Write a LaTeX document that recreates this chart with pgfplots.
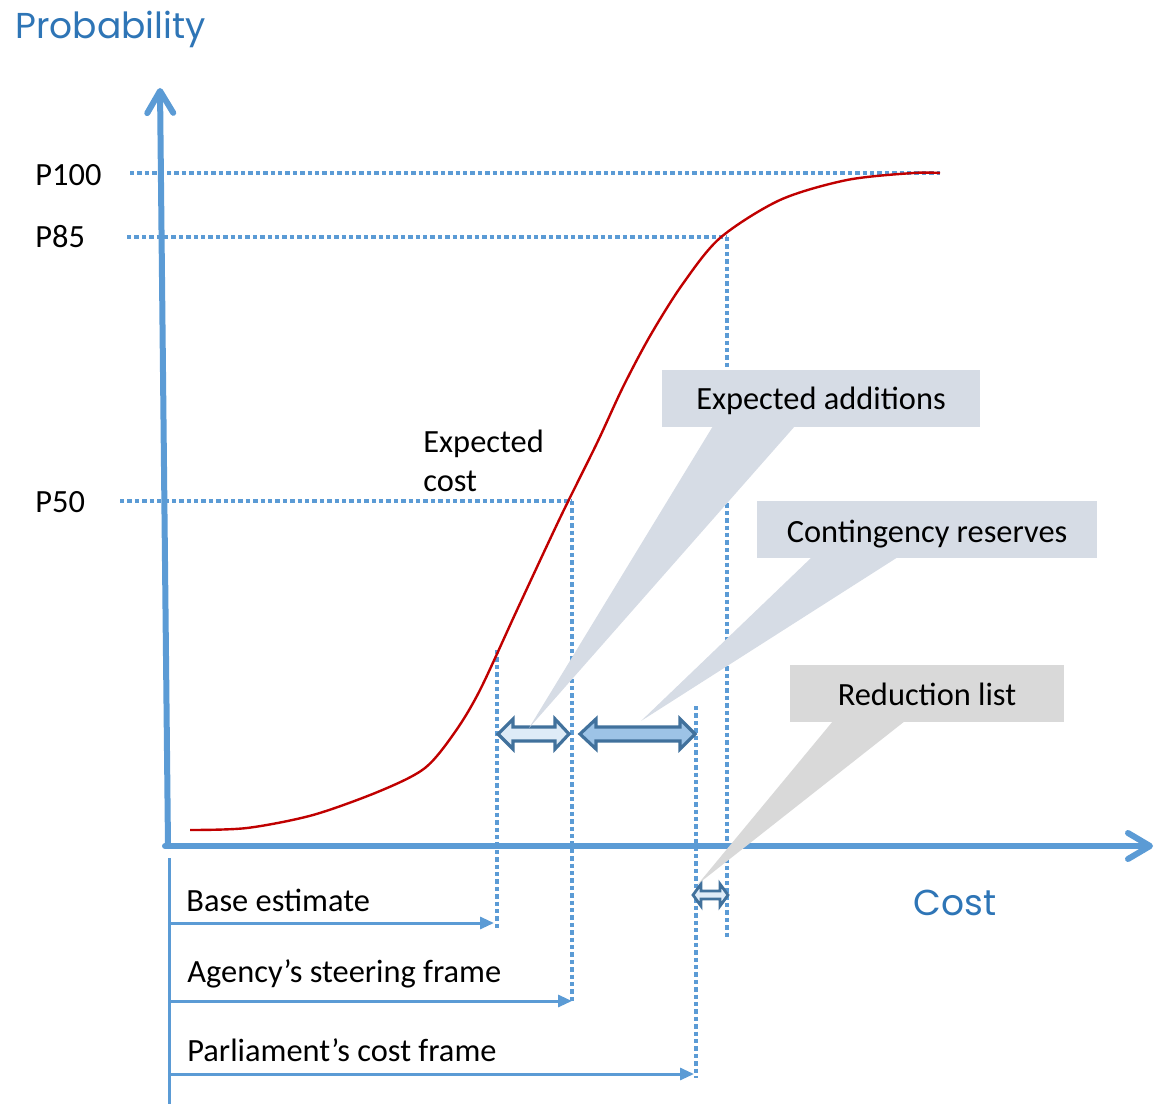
\documentclass[border=0pt]{standalone}
\usepackage{pgfplots}
\pgfplotsset{compat=1.18}
\usepackage{fontspec}
\setmainfont{Carlito}
\newfontfamily\titlefont{Poppins}
\usetikzlibrary{arrows.meta}

\definecolor{axblue}{HTML}{5B9BD5}
\definecolor{ttlblue}{HTML}{2E75B6}
\definecolor{curvered}{HTML}{C00000}
\definecolor{callblue}{HTML}{D6DCE5}
\definecolor{callgrey}{HTML}{D9D9D9}
\definecolor{arrlight}{HTML}{DEEBF7}
\definecolor{arrmid}{HTML}{9DC3E6}
\definecolor{arrdark}{HTML}{41719C}

\tikzset{
    lbl/.style={font=\fontsize{16.2}{19}\selectfont, inner sep=0pt},
    ttl/.style={font=\titlefont\fontsize{18}{20}\selectfont, text=ttlblue, inner sep=0pt},
}

\begin{document}
\begin{tikzpicture}
\begin{axis}[
    width=582.5pt, height=552pt, scale only axis,
    xmin=0, xmax=1165, ymin=0, ymax=1104,
    y dir=reverse,
    hide axis, clip=false,
    dotted ref/.style={axblue, line width=1.8pt, dash pattern=on 2.2pt off 1.5pt},
]
\path (axis cs:0,0) rectangle (axis cs:1165,1104);

% reference lines
\addplot[dotted ref] coordinates {(130,173) (940,173)};
\addplot[dotted ref] coordinates {(127,237) (727,237)};
\addplot[dotted ref] coordinates {(120,501) (572,501)};
\addplot[dotted ref] coordinates {(497,650) (497,930)};
\addplot[dotted ref] coordinates {(572,501) (572,1003)};
\addplot[dotted ref] coordinates {(696,706) (696,1078)};
\addplot[dotted ref] coordinates {(727,237) (727,937)};

% cumulative cost curve
\addplot[smooth, curvered, line width=1.2pt] coordinates {
    (190,830) (247,828) (313,815) (380,791) (425,768) (455,732)
    (480,690) (517,610) (560,518) (597,443) (623,387) (650,336)
    (682,285) (720,238) (780,200) (847,180) (913,173) (940,173)
};

% axes
\draw[axblue, line width=3pt, line cap=round,
      -{Straight Barb[length=11pt,width=13pt,round]}]
      (axis cs:168,846) -- (axis cs:160,88);
\draw[axblue, line width=3pt, line cap=round,
      -{Straight Barb[length=11pt,width=13pt,round]}]
      (axis cs:165,846) -- (axis cs:1153,846);
\node[ttl, anchor=base west] at (axis cs:15,39) {Probability};
\node[ttl, anchor=base west] at (axis cs:913,915) {Cost};

% probability labels
\node[lbl, anchor=base west] at (axis cs:35,186) {P100};
\node[lbl, anchor=base west] at (axis cs:35,248) {P85};
\node[lbl, anchor=base west] at (axis cs:35,513) {P50};
\node[lbl, anchor=base west] at (axis cs:423,453) {Expected};
\node[lbl, anchor=base west] at (axis cs:423,492) {cost};

% cost frames
\draw[axblue, line width=1.5pt] (axis cs:169,858) -- (axis cs:169,1104);
\draw[axblue, line width=1.5pt, -{Triangle[length=7pt,width=6pt]}]
    (axis cs:169,923) -- (axis cs:494,923);
\draw[axblue, line width=1.5pt, -{Triangle[length=7pt,width=6pt]}]
    (axis cs:169,1001) -- (axis cs:572,1001);
\draw[axblue, line width=1.5pt, -{Triangle[length=7pt,width=6pt]}]
    (axis cs:169,1074) -- (axis cs:694,1074);
\node[lbl, anchor=base west] at (axis cs:186,911) {Base estimate};
\node[lbl, anchor=base west] at (axis cs:187,982) {Agency’s steering frame};
\node[lbl, anchor=base west] at (axis cs:187,1061) {Parliament’s cost frame};

% double block arrows
\filldraw[fill=arrlight, draw=arrdark, line width=1.6pt, line join=miter]
    (axis cs:498,734) -- (axis cs:513,719) -- (axis cs:513,727) -- (axis cs:555,727)
    -- (axis cs:555,719) -- (axis cs:569,734) -- (axis cs:555,749) -- (axis cs:555,741)
    -- (axis cs:513,741) -- (axis cs:513,749) -- cycle;
\filldraw[fill=arrmid, draw=arrdark, line width=1.6pt, line join=miter]
    (axis cs:580,734) -- (axis cs:596,719) -- (axis cs:596,727) -- (axis cs:680,727)
    -- (axis cs:680,719) -- (axis cs:695,734) -- (axis cs:680,749) -- (axis cs:680,741)
    -- (axis cs:596,741) -- (axis cs:596,749) -- cycle;
\filldraw[fill=arrlight, draw=arrdark, line width=1.4pt, line join=miter]
    (axis cs:693,895) -- (axis cs:701,884) -- (axis cs:701,891) -- (axis cs:720,891)
    -- (axis cs:720,884) -- (axis cs:728,895) -- (axis cs:720,906) -- (axis cs:720,899)
    -- (axis cs:701,899) -- (axis cs:701,906) -- cycle;

% callouts
\fill[callblue] (axis cs:662,370) rectangle (axis cs:980,427);
\fill[callblue] (axis cs:713,426) -- (axis cs:529,728) -- (axis cs:795,426) -- cycle;
\node[lbl, anchor=base] at (axis cs:821,410) {Expected additions};

\fill[callblue] (axis cs:757,501) rectangle (axis cs:1097,558);
\fill[callblue] (axis cs:812,557) -- (axis cs:641,721) -- (axis cs:898,557) -- cycle;
\node[lbl, anchor=base] at (axis cs:927,542) {Contingency reserves};

\fill[callgrey] (axis cs:790,665) rectangle (axis cs:1064,722);
\fill[callgrey] (axis cs:833,721) -- (axis cs:698,884) -- (axis cs:905,721) -- cycle;
\node[lbl, anchor=base] at (axis cs:927,705) {Reduction list};
\end{axis}
\end{tikzpicture}
\end{document}
